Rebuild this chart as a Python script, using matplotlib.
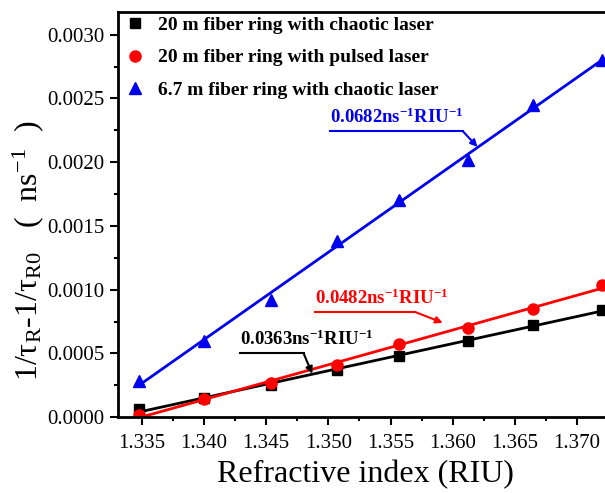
import numpy as np
import matplotlib
matplotlib.use('Agg')
import matplotlib.pyplot as plt
from matplotlib.ticker import MultipleLocator, FormatStrFormatter

plt.rcParams['font.family'] = 'Liberation Serif'
plt.rcParams['mathtext.fontset'] = 'custom'
plt.rcParams['mathtext.rm'] = 'Liberation Serif'
plt.rcParams['mathtext.it'] = 'Liberation Serif:italic'
plt.rcParams['mathtext.bf'] = 'Liberation Serif:bold'

# refractive index of the samples
ri = [1.3348, 1.3400, 1.3454, 1.3507, 1.3557, 1.3612, 1.3665, 1.3720]
# 1/tau_R - 1/tau_R0 (ns^-1)
chaotic_20m = [0.00006, 0.00015, 0.00025, 0.00037, 0.00048, 0.00060, 0.00072, 0.00084]
pulsed_20m = [0.00002, 0.00014, 0.00027, 0.00041, 0.00057, 0.00070, 0.00085, 0.00104]
chaotic_67m = [0.00028, 0.00060, 0.00092, 0.00138, 0.00170, 0.00202, 0.00245, 0.00280]

labels = ['20 m fiber ring with chaotic laser',
          '20 m fiber ring with pulsed laser',
          '6.7 m fiber ring with chaotic laser']
slopes = ['0.0363', '0.0482', '0.0682']
colors = ['black', 'red', '#0000ee']
markers = ['s', 'o', '^']
msizes = [7, 8, 9]

# slope labels: underline (x start, x end, y) and arrow tip
underlines = [(1.3429, 1.3480, 0.000502),
              (1.3489, 1.3570, 0.000824),
              (1.3501, 1.3608, 0.002245)]
tips = [(1.3487, 0.000340), (1.3592, 0.000740), (1.3620, 0.002120)]

fig = plt.figure(figsize=(6.05, 4.93), dpi=100)
ax = fig.add_axes([0.195, 0.154, 0.851, 0.822])

x = np.array(ri)
for ys, lab, c, m, ms in zip([chaotic_20m, pulsed_20m, chaotic_67m], labels, colors, markers, msizes):
    ax.plot(x, ys, linestyle='none', marker=m, color=c, markersize=ms, label=lab)
    p = np.polyfit(x, ys, 1)
    ax.plot(x, np.polyval(p, x), color=c, lw=2)

for (x0, x1, yu), tip, s, c in zip(underlines, tips, slopes, colors):
    ax.text(x0, yu + 0.00003, s + r'ns$^{\mathbf{-1}}$RIU$^{\mathbf{-1}}$', color=c,
            fontsize=13.5, fontweight='bold', ha='left', va='bottom')
    ax.plot([x0, x1], [yu, yu], color=c, lw=1.5)
    ax.annotate('', xy=tip, xytext=(x1, yu),
                arrowprops=dict(arrowstyle='-|>', color=c, lw=1.5, mutation_scale=10,
                                shrinkA=0, shrinkB=0))

ax.set_xlim(1.33307, 1.3745)
ax.set_ylim(0, 0.00318)
ax.xaxis.set_major_locator(MultipleLocator(0.005))
ax.xaxis.set_minor_locator(MultipleLocator(0.0025))
ax.yaxis.set_major_locator(MultipleLocator(0.0005))
ax.yaxis.set_minor_locator(MultipleLocator(0.00025))
ax.xaxis.set_major_formatter(FormatStrFormatter('%.3f'))
ax.yaxis.set_major_formatter(FormatStrFormatter('%.4f'))
ax.tick_params(direction='out', which='major', length=6, width=1.5, labelsize=15)
ax.tick_params(axis='x', pad=6)
ax.tick_params(direction='out', which='minor', length=3, width=1.5)
ax.tick_params(top=False, right=False)
for sp in ax.spines.values():
    sp.set_linewidth(2)

ax.set_xlabel('Refractive index (RIU)', fontsize=23)
ax.xaxis.set_label_coords(0.48, -0.105)
ax.set_ylabel('1/τ$_{\\mathrm{R}}$-1/τ$_{\\mathrm{R0}}$   (  ns$^{-1}$  )', fontsize=23)
ax.yaxis.set_label_coords(-0.14, 0.41)

ax.legend(loc='upper left', bbox_to_anchor=(0.0, 1.0), frameon=False,
          prop={'weight': 'bold', 'size': 14}, handletextpad=0.6,
          labelspacing=0.75, handlelength=1.2, borderaxespad=0.05, borderpad=0.2)

fig.savefig('out.png', dpi=100)
